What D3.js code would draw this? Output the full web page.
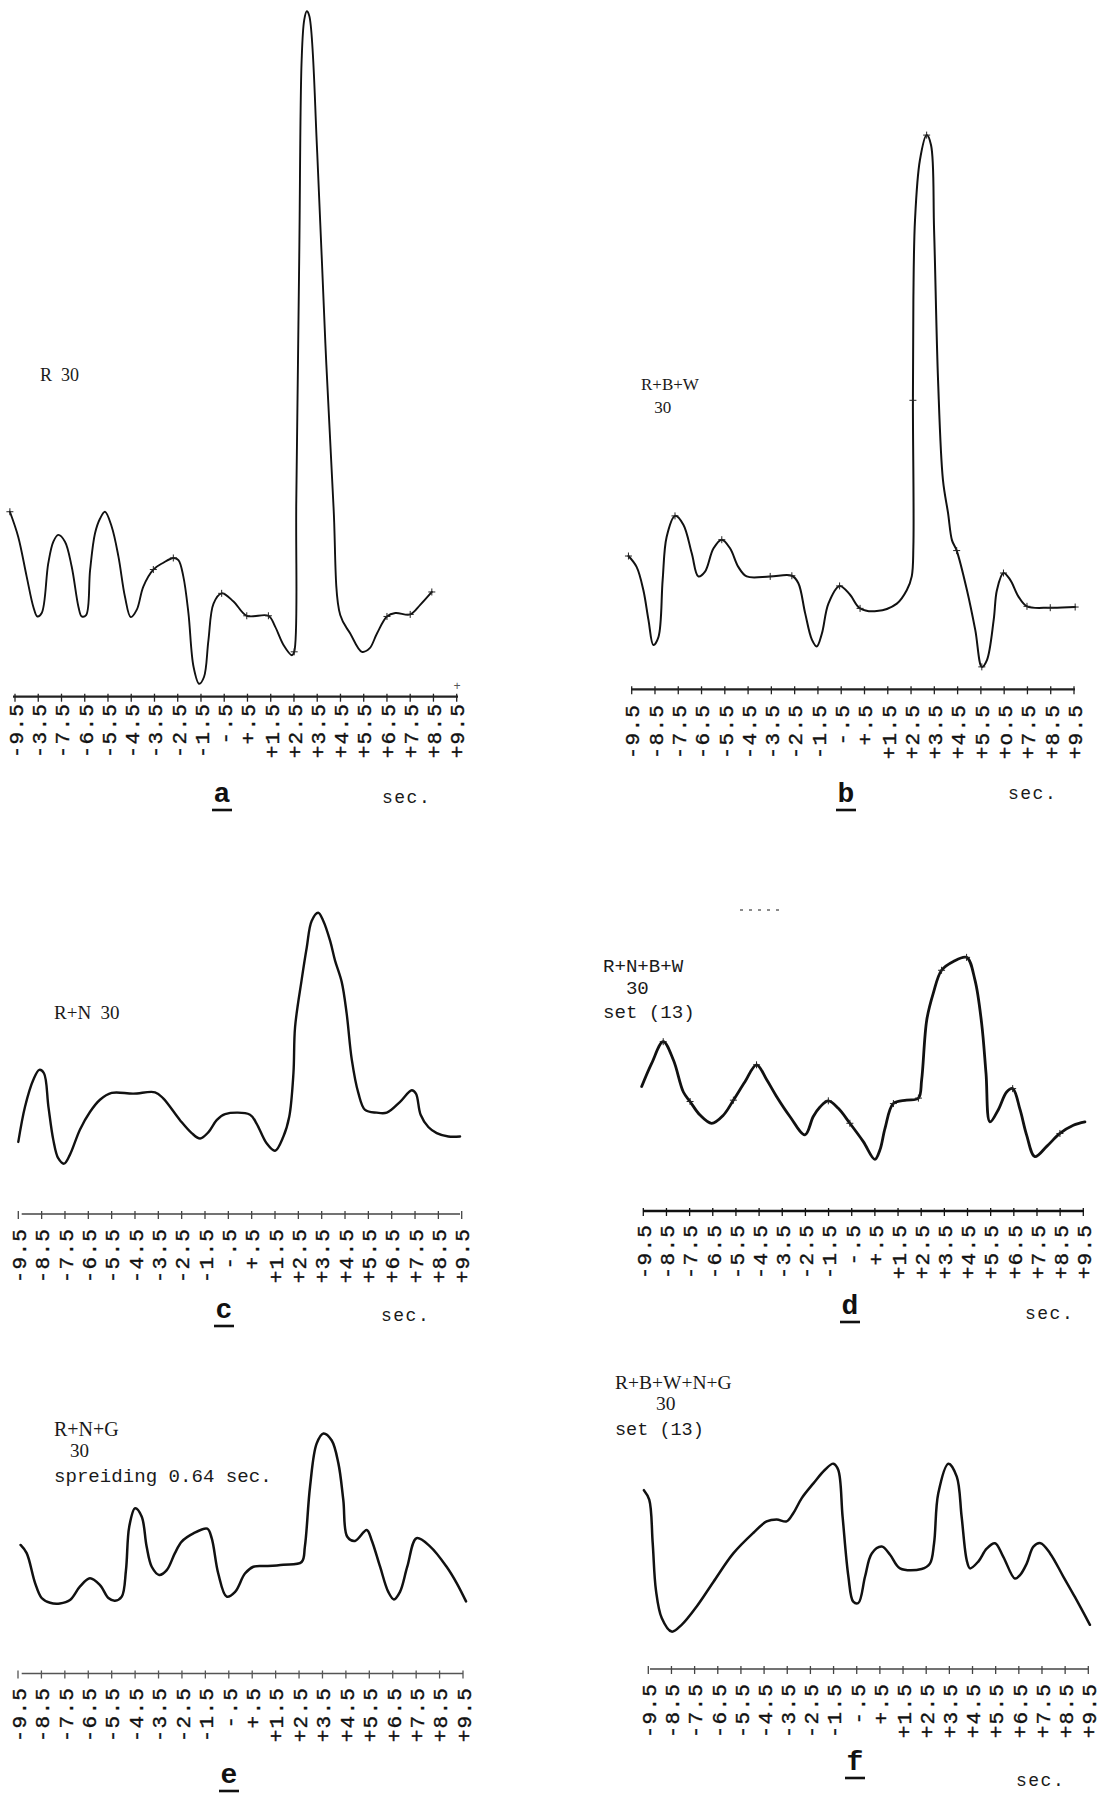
<!DOCTYPE html>
<html><head><meta charset="utf-8">
<script src="https://cdn.jsdelivr.net/npm/d3@7"></script>
<style>body{margin:0;background:#fff} svg{display:block;background:#fff}</style>
</head><body><svg id="chart" width="1103" height="1799"></svg>
<script>
// ---- tick positions & labels (seconds) ----
const tickSecs = d3.range(-9.5, 10, 1);
const labelsStd = ["-9.5","-8.5","-7.5","-6.5","-5.5","-4.5","-3.5","-2.5","-1.5","-.5","+.5","+1.5","+2.5","+3.5","+4.5","+5.5","+6.5","+7.5","+8.5","+9.5"];
const labelsA = ["-9.5","-3.5","-7.5","-6.5","-5.5","-4.5","-3.5","-2.5","-1.5","-.5","+.5","+1.5","+2.5","+3.5","+4.5","+5.5","+6.5","+7.5","+8.5","+9.5"];
const labelsB = ["-9.5","-8.5","-7.5","-6.5","-5.5","-4.5","-3.5","-2.5","-1.5","-.5","+.5","+1.5","+2.5","+3.5","+4.5","+5.5","+o.5","+7.5","+8.5","+9.5"];

// ---- series (time in sec, response in arbitrary units) ----
const aSec = [-9.72,-9.36,-9.0,-8.71,-8.54,-8.35,-8.07,-7.85,-7.64,-7.35,-7.06,-6.77,-6.63,-6.44,-6.27,-6.06,-5.84,-5.63,-5.34,-5.05,-4.77,-4.52,-4.26,-3.98,-3.55,-3.12,-2.69,-2.47,-2.26,-2.04,-1.82,-1.58,-1.37,-1.18,-0.96,-0.61,-0.10,0.47,1.40,1.69,2.05,2.41,2.51,2.60,2.73,2.83,2.94,3.05,3.16,3.50,3.85,4.20,4.49,4.92,5.42,5.75,6.07,6.50,6.86,7.50,7.93,8.43];
const aVal = [27.2,23.5,17.7,13.2,11.8,12.3,19.6,22.8,23.8,22.8,19.1,13.2,11.8,12.0,18.6,24.0,26.2,27.2,25.0,20.6,14.7,11.7,12.8,16.2,18.7,19.7,20.4,20.1,17.7,12.3,4.4,1.9,2.9,8.3,13.7,15.2,14.0,11.9,11.9,10.3,7.6,6.1,6.6,28.9,65.7,93.6,99.5,100.8,100.1,80.0,52.0,28.0,12.0,9.3,6.6,7.1,9.3,11.8,12.3,12.1,13.5,15.4];
const aMarks = [0,24,26,35,37,38,42,57,59,61];

const bSec = [-9.64,-9.29,-9.0,-8.78,-8.57,-8.35,-8.17,-8.0,-7.64,-7.28,-6.92,-6.64,-6.35,-5.99,-5.63,-5.27,-4.92,-4.56,-3.55,-2.62,-2.34,-2.05,-1.76,-1.55,-1.33,-1.05,-0.57,-0.12,0.31,1.03,1.89,2.32,2.53,2.60,2.58,2.60,2.67,2.88,3.17,3.36,3.49,3.66,3.87,4.09,4.26,4.46,4.9,5.26,5.54,5.76,6.05,6.19,6.47,6.76,7.12,7.48,8.48,9.55];
const bVal = [19.6,18.0,14.6,10.2,6.5,7.7,16.1,22.4,25.5,24.2,20.0,16.6,17.3,20.7,22.0,20.7,18.0,16.6,16.6,16.7,15.6,11.2,7.3,6.3,8.2,12.6,15.2,13.9,11.9,11.5,12.6,14.6,16.6,21.0,42.5,57.3,69.0,77.8,81.5,80.0,67.5,45.5,30.8,25.9,21.9,20.4,14.6,8.7,3.3,4.3,10.2,14.6,17.1,16.1,13.6,12.2,12.0,12.1];
const bMarks = [0,8,14,18,19,26,28,34,38,45,48,52,55,56,57];

const cSec = [-9.5,-9.21,-8.86,-8.6,-8.4,-8.21,-8.0,-7.79,-7.54,-7.29,-6.86,-6.43,-6.0,-5.5,-4.57,-3.64,-3.29,-2.57,-2.07,-1.71,-1.36,-1.0,-0.64,0.43,0.71,1.14,1.5,1.86,2.11,2.29,2.36,2.64,2.86,3.07,3.35,3.57,3.86,4.07,4.36,4.57,4.79,5.07,5.36,5.86,6.29,6.86,7.36,7.54,7.74,8.07,8.43,8.93,9.43];
const cVal = [10.6,15.8,19.7,21.2,20.7,15.8,10.9,8.2,7.4,8.7,12.4,15.0,16.8,17.8,17.7,17.9,17.0,13.8,11.9,11.1,12.0,13.8,14.7,14.6,13.3,10.4,9.3,11.4,14.3,20.7,27.5,34.4,39.2,43.1,44.3,43.1,40.2,37.3,34.1,29.5,22.7,17.8,15.3,14.9,14.9,16.5,18.2,17.7,14.6,12.8,11.9,11.4,11.4];

const dSec = [-9.57,-9.14,-8.64,-8.2,-7.77,-7.48,-7.05,-6.55,-6.04,-5.61,-5.11,-4.61,-4.17,-3.74,-3.17,-2.52,-2.16,-1.87,-1.51,-1.08,-0.58,0.0,0.5,0.72,0.94,1.3,1.87,2.38,2.52,2.74,3.02,3.38,3.89,4.46,4.82,5.11,5.3,5.47,5.83,6.19,6.45,6.77,7.05,7.41,7.92,8.49,9.07,9.57];
const dVal = [18.3,21.7,24.9,22.2,17.5,16.1,14.1,12.9,14.1,16.3,19.0,21.5,19.3,16.8,13.9,11.2,13.9,15.3,16.2,15.1,12.9,10.2,7.6,9.0,12.2,15.8,16.3,16.6,19.3,28.1,32.0,35.4,36.7,37.3,34.0,27.6,20.2,13.1,14.9,17.5,18.0,14.9,11.2,8.0,9.5,11.4,12.6,13.1];
const dMarks = [2,5,9,11,18,20,25,27,31,33,40,45];

const eSec = [-9.39,-9.13,-8.77,-8.49,-8.13,-7.71,-7.28,-6.85,-6.43,-6.0,-5.64,-5.36,-5.07,-4.89,-4.75,-4.5,-4.22,-4.01,-3.79,-3.47,-3.15,-2.8,-2.51,-2.01,-1.42,-1.23,-0.95,-0.59,-0.23,0.19,0.55,1.12,1.83,2.61,2.75,2.97,3.25,3.54,3.89,4.18,4.39,4.56,4.89,5.39,5.6,5.96,6.31,6.55,6.81,7.12,7.52,8.09,8.8,9.23,9.63];
const eVal = [18.9,17.7,13.3,11.1,10.4,10.3,10.8,12.8,14.0,13.0,11.1,10.7,11.3,15.2,21.6,24.3,23.1,18.7,15.7,14.5,15.2,17.7,19.4,20.6,21.3,19.9,14.7,11.3,12.0,14.7,15.7,15.8,16.0,16.4,18.7,27.5,33.8,35.3,34.3,30.9,25.5,20.1,19.5,21.1,19.6,15.7,12.0,10.9,12.0,15.7,19.9,18.7,15.7,13.3,10.6];

const fSec = [-9.69,-9.46,-9.31,-9.17,-8.92,-8.49,-8.06,-7.41,-6.69,-5.83,-4.97,-4.39,-3.96,-3.53,-3.24,-2.88,-2.37,-1.87,-1.51,-1.3,-1.11,-0.86,-0.65,-0.43,-0.14,0.15,0.58,0.94,1.37,2.3,2.66,2.84,3.02,3.46,3.82,4.03,4.25,4.39,4.75,5.11,5.47,5.83,6.33,6.55,6.84,7.13,7.44,7.85,8.42,8.92,9.57];
const fVal = [26.3,24.9,18.5,11.6,7.5,5.5,6.5,9.2,12.8,17.0,20.0,21.7,22.0,21.7,22.9,25.1,27.3,29.3,30.2,29.3,22.4,13.6,9.9,9.7,13.6,17.0,18.0,16.8,14.8,14.7,15.5,18.5,25.8,30.2,28.3,22.4,16.0,14.8,15.8,17.7,18.5,16.5,13.3,13.8,15.5,18.0,18.5,17.0,13.6,10.6,6.5];

// ---- annotation texts ----
const aNote = ["R  30"];
const bNote = ["R+B+W", " 30"];
const cNote = ["R+N  30"];
const dNote = ["R+N+B+W", "  30", "set (13)"];
const eNote = ["R+N+G", "30", "spreiding 0.64 sec."];
const fNote = ["R+B+W+N+G", "30", "set (13)"];

const svg = d3.select("#chart");
const MONO = "'Liberation Mono','DejaVu Sans Mono',monospace";
const SERIF = "'Liberation Serif','DejaVu Serif',serif";

const panels = [
  {id:"a", sec:aSec, val:aVal, marks:aMarks, labels:labelsA, x0:15, x1:456.7, axY:696.7, axS:13, axE:458, labTop:703, lw:1.9, axW:2.2, axC:"#222",
   notes:[{t:aNote[0], x:40, y:381, font:SERIF, size:18}],
   letter:{t:"a", x:222, y:802}, sec2:{x:382, y:803}},
  {id:"b", sec:bSec, val:bVal, marks:bMarks, labels:labelsB, x0:631.7, x1:1074, axY:689.3, axS:631, axE:1075, labTop:704, lw:2.0, axW:2.2, axC:"#222",
   notes:[{t:bNote[0], x:641, y:390, font:SERIF, size:17},{t:bNote[1], x:650, y:413, font:SERIF, size:17}],
   letter:{t:"b", x:846, y:802}, sec2:{x:1008, y:799}},
  {id:"c", sec:cSec, val:cVal, marks:[], labels:labelsStd, x0:18.3, x1:461.7, axY:1214, axS:21.7, axE:460, labTop:1228, lw:2.4, axW:1.6, axC:"#444",
   notes:[{t:cNote[0], x:54, y:1019, font:SERIF, size:19}],
   letter:{t:"c", x:224, y:1318}, sec2:{x:381, y:1321}},
  {id:"d", sec:dSec, val:dVal, marks:dMarks, labels:labelsStd, x0:643.3, x1:1083.3, axY:1211, axS:643, axE:1084, labTop:1224, lw:2.8, axW:2.4, axC:"#111",
   notes:[{t:dNote[0], x:603, y:972, font:MONO, size:19.1},{t:dNote[1], x:603, y:994, font:MONO, size:19.1},{t:dNote[2], x:603, y:1018, font:MONO, size:19.1}],
   letter:{t:"d", x:850, y:1314}, sec2:{x:1025, y:1319}},
  {id:"e", sec:eSec, val:eVal, marks:[], labels:labelsStd, x0:18, x1:463, axY:1673.5, axS:21.7, axE:463, labTop:1687, lw:2.5, axW:1.5, axC:"#555",
   notes:[{t:eNote[0], x:54, y:1436, font:SERIF, size:20},{t:eNote[1], x:70, y:1457, font:SERIF, size:19},{t:eNote[2], x:54, y:1482, font:MONO, size:19.1}],
   letter:{t:"e", x:229, y:1783}, sec2:null},
  {id:"f", sec:fSec, val:fVal, marks:[], labels:labelsStd, x0:648.3, x1:1088.3, axY:1669, axS:650, axE:1088, labTop:1683, lw:2.5, axW:1.6, axC:"#444",
   notes:[{t:fNote[0], x:615, y:1389, font:SERIF, size:19.5},{t:fNote[1], x:656, y:1410, font:SERIF, size:19.5},{t:fNote[2], x:615, y:1435, font:MONO, size:18.5}],
   letter:{t:"f", x:855, y:1770}, sec2:{x:1016, y:1786}}
];

panels.forEach(p => {
  const g = svg.append("g").attr("class", "panel-" + p.id);
  const x = d3.scaleLinear().domain([-9.5, 9.5]).range([p.x0, p.x1]);
  const y = d3.scaleLinear().domain([0, 100]).range([p.axY, p.axY - 680]);

  // axis line
  g.append("line").attr("x1", p.axS).attr("x2", p.axE).attr("y1", p.axY).attr("y2", p.axY)
    .attr("stroke", p.axC).attr("stroke-width", p.axW);
  // ticks
  g.selectAll("line.tick").data(tickSecs).join("line").attr("class", "tick")
    .attr("x1", d => x(d)).attr("x2", d => x(d))
    .attr("y1", p.axY - 3).attr("y2", p.axY + 5)
    .attr("stroke", p.axC).attr("stroke-width", 1.3);
  // tick labels (rotated, reading upwards)
  g.selectAll("text.tl").data(tickSecs).join("text").attr("class", "tl")
    .attr("transform", d => `translate(${x(d)},${p.labTop}) rotate(-90)`)
    .attr("text-anchor", "end").attr("dy", "0.37em")
    .attr("font-family", MONO).attr("font-size", 21).attr("letter-spacing", 1.2)
    .attr("fill", "#111").attr("stroke", "#111").attr("stroke-width", 0.35)
    .text((d, i) => p.labels[i]);

  // curve
  const pts = d3.zip(p.sec, p.val);
  const line = d3.line().x(d => x(d[0])).y(d => y(d[1])).curve(d3.curveCatmullRom.alpha(0.5));
  g.append("path").attr("d", line(pts)).attr("fill", "none")
    .attr("stroke", "#111").attr("stroke-width", p.lw)
    .attr("stroke-linejoin", "round").attr("stroke-linecap", "round");

  // small "+" plotting marks on the curve
  const mk = g.selectAll("g.mk").data(p.marks.map(i => pts[i])).join("g").attr("class", "mk")
    .attr("transform", d => `translate(${x(d[0])},${y(d[1])})`);
  mk.append("line").attr("x1", -3.5).attr("x2", 3.5).attr("stroke", "#222").attr("stroke-width", 1);
  mk.append("line").attr("y1", -3.5).attr("y2", 3.5).attr("stroke", "#222").attr("stroke-width", 1);

  // annotation
  p.notes.forEach(n => {
    g.append("text").attr("x", n.x).attr("y", n.y).attr("font-family", n.font)
      .attr("font-size", n.size).attr("fill", "#1a1a1a").style("white-space", "pre").text(n.t);
  });
  // panel letter underlined
  g.append("text").attr("x", p.letter.x).attr("y", p.letter.y)
    .attr("text-anchor", "middle").attr("font-family", MONO).attr("font-weight", "bold")
    .attr("font-size", 28).attr("fill", "#111").text(p.letter.t);
  g.append("line").attr("x1", p.letter.x - 10).attr("x2", p.letter.x + 10)
    .attr("y1", p.letter.y + 8).attr("y2", p.letter.y + 8)
    .attr("stroke", "#111").attr("stroke-width", 2.6);
  if (p.sec2) {
    g.append("text").attr("x", p.sec2.x).attr("y", p.sec2.y).attr("font-family", MONO)
      .attr("font-size", 18).attr("letter-spacing", 1.5).attr("fill", "#1a1a1a").text("sec.");
  }
});

// small stray mark on panel a axis end
svg.append("text").attr("x", 457).attr("y", 690).attr("text-anchor", "middle")
  .attr("font-family", MONO).attr("font-size", 12).attr("fill", "#555").text("+");
// faint dotted mark above panel d
svg.append("line").attr("x1", 740).attr("x2", 780).attr("y1", 910).attr("y2", 910)
  .attr("stroke", "#666").attr("stroke-width", 1.5).attr("stroke-dasharray", "3,6");
</script>
</body></html>
